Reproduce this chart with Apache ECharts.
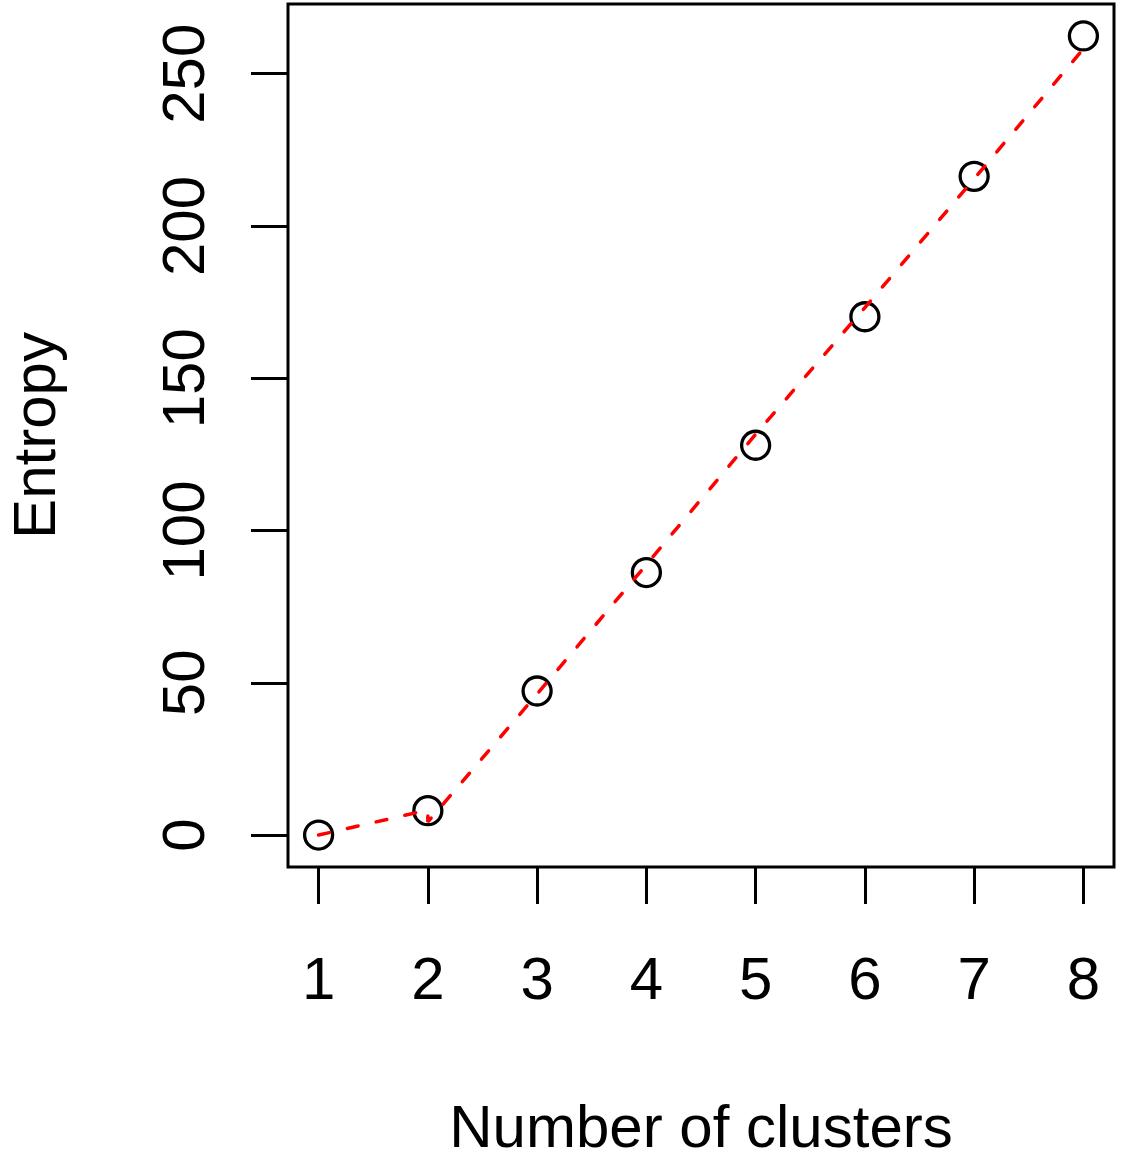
<!DOCTYPE html>
<html>
<head>
<meta charset="utf-8">
<title>Entropy by number of clusters</title>
<script src="https://cdn.jsdelivr.net/npm/echarts@6/dist/echarts.min.js"></script>
<style>
  html, body { margin: 0; padding: 0; background: #fff; }
  #chart { width: 1127px; height: 1153px; }
</style>
</head>
<body>
<div id="chart"></div>
<script>
// Observed entropy for each number of clusters
const clusters = [1, 2, 3, 4, 5, 6, 7, 8];
const entropy = [0, 8.0, 47.3, 86.2, 128.0, 170.2, 216.3, 262.4];

// Reference curve (red dashed)
const curveX = [1, 2, 2, 3, 4, 5, 6, 7, 8];
const curveY = [0, 8.2, 4.3, 46.3, 88.8, 131.6, 173.2, 215.5, 258.2];

// Axis tick positions
const xTicks = [1, 2, 3, 4, 5, 6, 7, 8];
const yTicks = [0, 50, 100, 150, 200, 250];

const FONT = '"Liberation Sans", Arial, Helvetica, sans-serif';

// Axis ranges padded by 4% on each side
const xPad = (Math.max(...clusters) - Math.min(...clusters)) * 0.04;
const yLo = Math.min(...entropy), yHi = Math.max(...entropy);
const yPad = (yHi - yLo) * 0.04;

const chart = echarts.init(document.getElementById('chart'), null, { renderer: 'canvas' });

chart.setOption({
  animation: false,
  backgroundColor: '#fff',
  grid: {
    left: 288, top: 4, right: 13, bottom: 286,
    containLabel: false,
    outerBoundsMode: 'none',
    show: true, borderColor: '#000', borderWidth: 3, backgroundColor: '#fff'
  },
  xAxis: {
    type: 'value',
    position: 'bottom',
    min: Math.min(...clusters) - xPad,
    max: Math.max(...clusters) + xPad,
    name: 'Number of clusters',
    nameLocation: 'middle',
    nameGap: 233,
    nameTextStyle: { fontFamily: FONT, fontSize: 60, color: '#000' },
    axisLine: { show: false, onZero: false },
    splitLine: { show: false },
    axisTick: {
      show: true, inside: false, length: 37,
      customValues: xTicks,
      lineStyle: { color: '#000', width: 3 }
    },
    axisLabel: {
      customValues: xTicks,
      margin: 85,
      fontFamily: FONT, fontSize: 60, color: '#000'
    }
  },
  yAxis: {
    type: 'value',
    position: 'left',
    min: yLo - yPad,
    max: yHi + yPad,
    name: 'Entropy',
    nameLocation: 'middle',
    nameGap: 220,
    nameTextStyle: { fontFamily: FONT, fontSize: 60, color: '#000' },
    axisLine: { show: false, onZero: false },
    splitLine: { show: false },
    axisTick: {
      show: true, inside: false, length: 37,
      customValues: yTicks,
      lineStyle: { color: '#000', width: 3 }
    },
    axisLabel: {
      customValues: yTicks,
      rotate: 90,
      margin: 71,
      fontFamily: FONT, fontSize: 60, color: '#000'
    }
  },
  series: [
    {
      name: 'curve',
      type: 'line',
      data: curveX.map((x, i) => [x, curveY[i]]),
      showSymbol: false,
      symbol: 'none',
      lineStyle: { color: '#ff0000', width: 3.5, type: [11, 18.5], cap: 'round', opacity: 1 },
      z: 3
    },
    {
      name: 'entropy',
      type: 'scatter',
      data: clusters.map((x, i) => [x, entropy[i]]),
      symbol: 'circle',
      symbolSize: 28,
      itemStyle: { color: 'rgba(0,0,0,0)', borderColor: '#000', borderWidth: 3.3, opacity: 1 },
      z: 2
    }
  ]
});
</script>
</body>
</html>
